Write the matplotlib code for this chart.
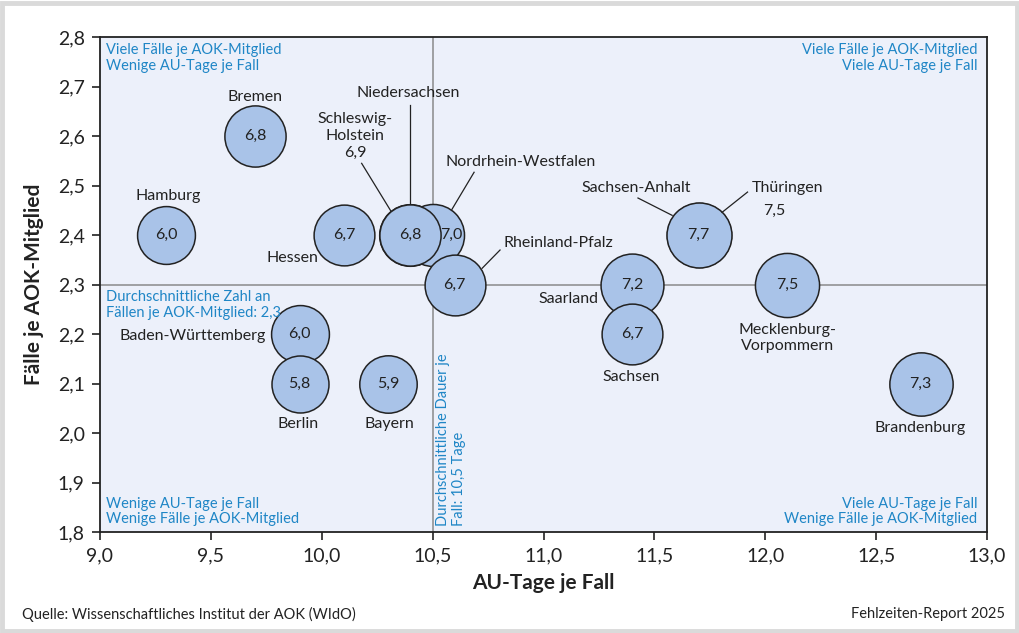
import matplotlib.pyplot as plt
from matplotlib.patches import Rectangle
from matplotlib.ticker import FuncFormatter, MultipleLocator

plt.rcParams['font.family'] = ['Lato', 'DejaVu Sans']

# data: state, AU-Tage je Fall, Fälle je Mitglied, AU-Quote-Wert im Kreis
laender = ['Hamburg', 'Bremen', 'Hessen', 'Schleswig-Holstein', 'Nordrhein-Westfalen',
           'Niedersachsen', 'Rheinland-Pfalz', 'Baden-Württemberg', 'Berlin', 'Bayern',
           'Saarland', 'Sachsen', 'Thüringen', 'Sachsen-Anhalt',
           'Mecklenburg-Vorpommern', 'Brandenburg']
tage = [9.3, 9.7, 10.1, 10.4, 10.5, 10.4, 10.6, 9.9, 9.9, 10.3,
        11.4, 11.4, 11.7, 11.7, 12.1, 12.7]
faelle = [2.4, 2.6, 2.4, 2.4, 2.4, 2.4, 2.3, 2.2, 2.1, 2.1,
          2.3, 2.2, 2.4, 2.4, 2.3, 2.1]
werte = [6.0, 6.8, 6.7, 6.9, 7.0, 6.8, 6.7, 6.0, 5.8, 5.9,
         7.2, 6.7, 7.5, 7.7, 7.5, 7.3]
mittel_tage = 10.5
mittel_faelle = 2.3

blau = '#1f86c6'
fill = '#a9c3e8'
bg = '#ecf0fa'

def komma(v, pos=None):
    return f'{v:.1f}'.replace('.', ',')

fig = plt.figure(figsize=(10.2, 6.33), dpi=100)
ax = fig.add_axes([0.098, 0.159, 0.8697, 0.7825])
ax.set_facecolor(bg)
ax.set_xlim(9.0, 13.0)
ax.set_ylim(1.8, 2.8)

ax.axvline(mittel_tage, color='#8a8a8a', lw=1.1, zorder=1)
ax.axhline(mittel_faelle, color='#8a8a8a', lw=1.1, zorder=1)

# bubble size grows a little with the value
for name, x, y, w in zip(laender, tage, faelle, werte):
    d_px = 57 + (w - 5.8) * 4.2
    ax.scatter(x, y, s=(d_px * 0.72) ** 2, color=fill, edgecolor='#222222',
               linewidth=1.1, zorder=3)

# values inside the circles (hidden ones are written next to their label)
hidden = {'Schleswig-Holstein', 'Thüringen'}
val_dx = {'Nordrhein-Westfalen': 0.085}
for name, x, y, w in zip(laender, tage, faelle, werte):
    if name in hidden:
        continue
    ax.text(x + val_dx.get(name, 0), y, komma(w), ha='center', va='center',
            fontsize=11.5, color='#222222', zorder=5)

lab = dict(fontsize=11.5, color='#222222', zorder=5)
ax.text(9.70, 2.679, 'Bremen', ha='center', va='center', **lab)
ax.text(9.307, 2.479, 'Hamburg', ha='center', va='center', **lab)
ax.text(9.985, 2.354, 'Hessen', ha='right', va='center', **lab)
ax.text(10.15, 2.60, 'Schleswig-\nHolstein\n6,9', ha='center', va='center',
        linespacing=1.25, **lab)
ax.text(10.39, 2.687, 'Niedersachsen', ha='center', va='center', **lab)
ax.text(10.556, 2.547, 'Nordrhein-Westfalen', ha='left', va='center', **lab)
ax.text(10.82, 2.385, 'Rheinland-Pfalz', ha='left', va='center', **lab)
ax.text(9.75, 2.196, 'Baden-Württemberg', ha='right', va='center', **lab)
ax.text(9.893, 2.018, 'Berlin', ha='center', va='center', **lab)
ax.text(10.303, 2.018, 'Bayern', ha='center', va='center', **lab)
ax.text(11.246, 2.271, 'Saarland', ha='right', va='center', **lab)
ax.text(11.395, 2.113, 'Sachsen', ha='center', va='center', **lab)
ax.text(11.417, 2.495, 'Sachsen-Anhalt', ha='center', va='center', **lab)
ax.text(11.94, 2.495, 'Thüringen', ha='left', va='center', **lab)
ax.text(11.99, 2.449, '7,5', ha='left', va='center', **lab)
ax.text(12.10, 2.192, 'Mecklenburg-\nVorpommern', ha='center', va='center',
        linespacing=1.2, **lab)
ax.text(12.70, 2.010, 'Brandenburg', ha='center', va='center', **lab)

# leader lines
ln = dict(color='#222222', lw=0.9, zorder=4)
ax.plot([10.18, 10.31], [2.545, 2.45], **ln)
ax.plot([10.40, 10.40], [2.663, 2.465], **ln)
ax.plot([10.687, 10.587], [2.527, 2.452], **ln)
ax.plot([10.804, 10.723], [2.370, 2.333], **ln)
ax.plot([11.426, 11.58], [2.475, 2.44], **ln)
ax.plot([11.92, 11.805], [2.487, 2.446], **ln)

# quadrant notes
q = dict(fontsize=10.5, color=blau, zorder=5, linespacing=1.15)
ax.text(9.027, 2.788, 'Viele Fälle je AOK-Mitglied\nWenige AU-Tage je Fall',
        ha='left', va='top', **q)
ax.text(12.955, 2.788, 'Viele Fälle je AOK-Mitglied\nViele AU-Tage je Fall',
        ha='right', va='top', multialignment='right', **q)
ax.text(9.027, 1.812, 'Wenige AU-Tage je Fall\nWenige Fälle je AOK-Mitglied',
        ha='left', va='bottom', **q)
ax.text(12.955, 1.812, 'Viele AU-Tage je Fall\nWenige Fälle je AOK-Mitglied',
        ha='right', va='bottom', multialignment='right', **q)
ax.text(9.027, 2.289, 'Durchschnittliche Zahl an\nFällen je AOK-Mitglied: 2,3',
        ha='left', va='top', **q)
ax.text(10.515, 1.812, 'Durchschnittliche Dauer je\nFall: 10,5 Tage',
        rotation=90, ha='left', va='bottom', multialignment='left', **q)

ax.xaxis.set_major_locator(MultipleLocator(0.5))
ax.yaxis.set_major_locator(MultipleLocator(0.1))
ax.xaxis.set_major_formatter(FuncFormatter(komma))
ax.yaxis.set_major_formatter(FuncFormatter(komma))
ax.tick_params(direction='out', length=6, width=1.2, labelsize=14,
               colors='#222222', pad=5)
for sp in ax.spines.values():
    sp.set_linewidth(1.3)
    sp.set_color('#222222')

ax.set_xlabel('AU-Tage je Fall', fontsize=15, fontweight='bold', color='#222222',
              labelpad=6)
ax.set_ylabel('Fälle je AOK-Mitglied', fontsize=15, fontweight='bold',
              color='#222222', labelpad=10)

fig.text(0.022, 0.030, 'Quelle: Wissenschaftliches Institut der AOK (WIdO)',
         fontsize=10.5, color='#222222', ha='left', va='center')
fig.text(0.985, 0.030, 'Fehlzeiten-Report 2025', fontsize=10.5,
         color='#222222', ha='right', va='center')

fig.patches.append(Rectangle((0.002, 0.003), 0.995, 0.993, transform=fig.transFigure,
                             fill=False, edgecolor='#dadada', lw=3.5))

fig.savefig('out.png', dpi=100)
